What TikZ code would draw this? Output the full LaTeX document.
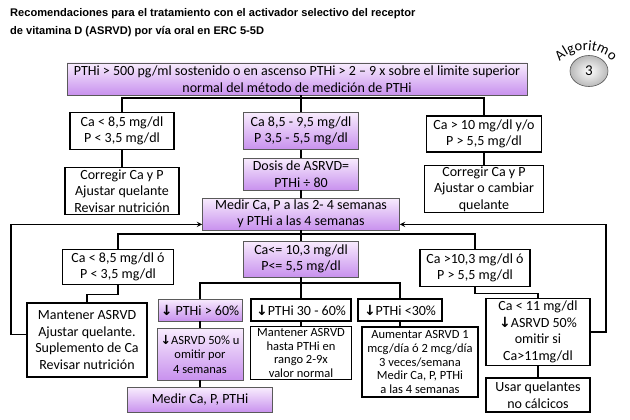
\documentclass[tikz,border=0pt]{standalone}
\usepackage{fontspec}
\setmainfont{Carlito}
\newfontfamily\titlefont{Liberation Sans}
\newfontfamily\arrowfont{DejaVu Sans}
\usepackage{tikz}
\usetikzlibrary{positioning,shapes.geometric,decorations.text}
\usepackage{xcolor}

\definecolor{lilatop}{RGB}{248,236,253}
\definecolor{lilabot}{RGB}{200,145,238}
\definecolor{pborder}{RGB}{90,90,90}

\newcommand{\fsz}[2]{\fontsize{#1}{#2}\selectfont}
\newcommand{\dn}{{\arrowfont\bfseries ↓}}

\begin{document}
\begin{tikzpicture}[
    x=1pt, y=-1pt,
    wbox/.style={rectangle, draw=black, line width=1.8pt, fill=white, align=center, inner sep=1pt, font=\fsz{14}{16.5}},
    pbox/.style={rectangle, draw=pborder, line width=0.8pt, top color=lilatop, bottom color=lilabot, align=center, inner sep=1pt, font=\fsz{14}{16.5}},
    small/.style={font=\fsz{12.5}{13.6}},
    line/.style={line width=1.7pt},
    arrow/.style={->, >=stealth, line width=1.3pt}
]
\useasboundingbox (0,0) rectangle (630,420);

% Title and badge
\node[anchor=north west, align=left, inner sep=0, font=\titlefont\bfseries\fsz{11.1}{18.5}] (title) at (10,8)
    {Recomendaciones para el tratamiento con el activador selectivo del receptor\\de vitamina D (ASRVD) por vía oral en ERC 5-5D};
\node[ellipse, draw=gray!70!black, line width=0.6pt, inner sep=0, minimum width=38pt, minimum height=31pt,
    inner color=white, outer color=gray!55, font=\fsz{15}{15}] (badge) at (589,71) {3};
\begin{scope}[shift={(586,86)}, y=1pt]
\path[decorate, decoration={text along path, text align=center, text={|\fsz{14.5}{14.5}|Algoritmo}}]
    (145:36) arc[start angle=145, end angle=35, radius=36];
\end{scope}

% Nodes
\node[pbox, minimum width=460, minimum height=32] (top) at (297,79)
    {PTHi > 500 pg/ml sostenido o en ascenso PTHi > 2 – 9 x sobre el limite superior\\normal del método de medición de PTHi};
\node[wbox, minimum width=104, minimum height=37] (l1) at (122,131) {Ca < 8,5 mg/dl\\P < 3,5 mg/dl};
\node[pbox, minimum width=115, minimum height=37] (m1) at (301,131) {Ca 8,5 - 9,5 mg/dl\\P 3,5 - 5,5 mg/dl};
\node[wbox, minimum width=115, minimum height=36] (r1) at (484,134) {Ca > 10 mg/dl y/o\\P > 5,5 mg/dl};
\node[wbox, minimum width=114, minimum height=47] (l2) at (122,191) {Corregir Ca y P\\Ajustar quelante\\Revisar nutrición};
\node[pbox, minimum width=115, minimum height=32] (m2) at (301,174) {Dosis de ASRVD=\\PTHi ÷ 80};
\node[wbox, minimum width=119, minimum height=47] (r2) at (484,189) {Corregir Ca y P\\Ajustar o cambiar\\quelante};
\node[pbox, minimum width=197, minimum height=32] (m3) at (301,214) {Medir Ca, P a las 2- 4 semanas\\y PTHi a las 4 semanas};
\node[wbox, minimum width=111, minimum height=35] (l3) at (118,267) {Ca < 8,5 mg/dl ó\\P < 3,5 mg/dl};
\node[pbox, minimum width=115, minimum height=36] (m4) at (301,259) {Ca<= 10,3 mg/dl\\P<= 5,5 mg/dl};
\node[wbox, minimum width=110, minimum height=37] (r3) at (475,268) {Ca >10,3 mg/dl ó\\P > 5,5 mg/dl};
\node[wbox, minimum width=120, minimum height=74] (l4) at (87,340) {Mantener ASRVD\\Ajustar quelante.\\Suplemento de Ca\\Revisar nutrición};
\node[pbox, minimum width=84, minimum height=22] (p60) at (200,310) {\dn\ PTHi > 60\%};
\node[wbox, minimum width=100, minimum height=22] (p3060) at (301,310) {\dn PTHi 30 - 60\%};
\node[wbox, minimum width=84, minimum height=22] (p30) at (400,310) {\dn PTHi <30\%};
\node[pbox, font=\fsz{12.5}{14.5}, minimum width=86, minimum height=52] (asrvd) at (200,354) {\dn ASRVD 50\% u\\omitir por\\4 semanas};
\node[pbox, minimum width=145, minimum height=25] (medir) at (200,400) {Medir Ca, P, PTHi};
\node[wbox, small, minimum width=101, minimum height=53] (mant) at (301,353) {Mantener ASRVD\\hasta PTHi en\\rango 2-9x\\valor normal};
\node[wbox, small, minimum width=116, minimum height=70] (aum) at (420,362) {Aumentar ASRVD 1\\mcg/día ó 2 mcg/día\\3 veces/semana\\Medir Ca, P, PTHi\\a las 4 semanas};
\node[wbox, minimum width=104, minimum height=67] (ca11) at (538,332) {Ca < 11 mg/dl\\\dn ASRVD 50\%\\omitir si\\Ca>11mg/dl};
\node[wbox, minimum width=104, minimum height=34] (usar) at (538,395) {Usar quelantes\\no cálcicos};

% Junctions
\coordinate (j1) at (301,98);
\coordinate (j2) at (301,234);
\coordinate (j3) at (301,283);

% Edges
\draw[line] (top.south -| m1) -- (m1.north);
\draw[line] (l1.north) |- (j1) -| (r1.north);
\draw[line] (l1) -- (l2);
\draw[line] (r1) -- (r2);
\draw[line] (m1) -- (m2);
\draw[line] (m2) -- (m3);
\draw[line] (m3) -- (m4);
\draw[line] (l3.north) |- (j2) -| (r3.north);
\draw[line] (l3.south) -- ++(0,9) -| (l4.north);
\draw[line] (m4) -- (p3060);
\draw[line] (p60.north) |- (j3) -| (p30.north);
\draw[line] (p60) -- (asrvd);
\draw[line] (asrvd) -- (medir);
\draw[line] (p3060) -- (mant);
\draw[line] (p30.south) -- (p30.south |- aum.north);
\draw[line] (r3.south) -- ++(0,6) -| (ca11.north);
\draw[line] (ca11) -- (usar);
\draw[arrow] (l4.175) -- ++(-15,0) |- (m3.186);
\draw[arrow] (ca11.east) -- ++(15,0) |- (m3.354);

\end{tikzpicture}
\end{document}
